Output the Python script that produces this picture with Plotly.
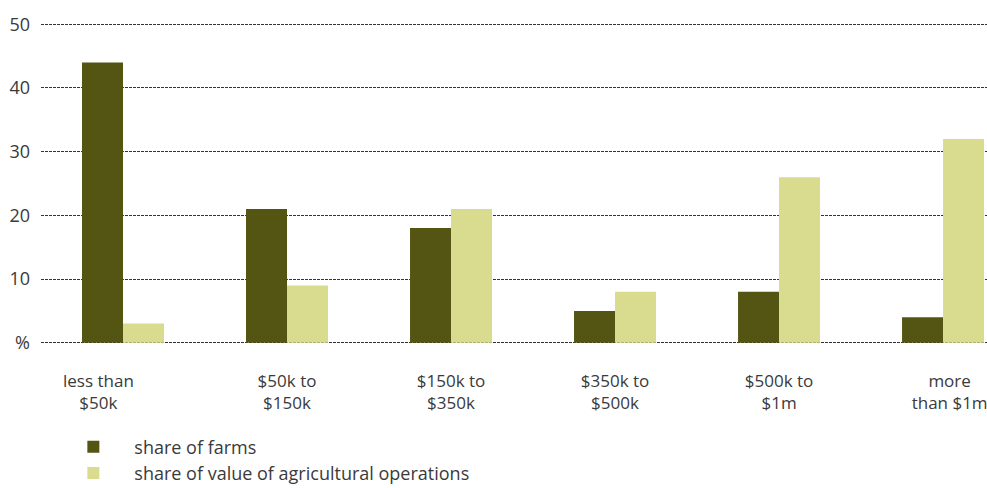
import plotly.graph_objects as go

categories = ["less than<br>$50k", "$50k to<br>$150k", "$150k to<br>$350k", "$350k to<br>$500k", "$500k to<br>$1m", "more<br>than $1m"]
label_positions = [-0.15, 1, 2, 3, 4, 5.04]
share_farms = [44, 21, 18, 5, 8, 4]
share_value = [3, 9, 21, 8, 26, 32]
y_tickvals = [0, 10, 20, 30, 40, 50]
y_ticktext = ["%", "10", "20", "30", "40", "50"]

font_family = "Open Sans, Noto Sans, sans-serif"
text_color = "#3a3a3a"

fig = go.Figure()
fig.add_trace(go.Bar(x=list(range(len(categories))), y=share_farms, name="share of farms",
                     marker=dict(color="#555513", line=dict(width=0))))
fig.add_trace(go.Bar(x=list(range(len(categories))), y=share_value, name="share of value of agricultural operations",
                     marker=dict(color="#d9dc8f", line=dict(width=0))))

fig.update_layout(
    width=987, height=488,
    margin=dict(l=41, r=0, t=23, b=144, autoexpand=False),
    plot_bgcolor="white", paper_bgcolor="white",
    barmode="group", bargap=0.5, bargroupgap=0,
    font=dict(family=font_family, size=17, color=text_color),
    showlegend=True,
    legend=dict(orientation="v", x=0.012, y=0.122, xref="paper", yref="container",
                xanchor="left", yanchor="top",
                font=dict(size=18, color=text_color), itemwidth=72,
                bgcolor="rgba(0,0,0,0)"),
    xaxis=dict(tickmode="array", tickvals=label_positions, ticktext=categories,
               range=[-0.5, 5.268], showgrid=False, zeroline=False, showline=False,
               ticks="", ticklabelstandoff=25, ticklabeloverflow="allow",
               tickfont=dict(size=17, color=text_color)),
    yaxis=dict(range=[-0.2, 50.2], tickvals=y_tickvals, ticktext=y_ticktext,
               showgrid=True, gridcolor="#333333", griddash="3px,1px", gridwidth=1,
               zeroline=False, showline=False, ticks="", ticklabelstandoff=10,
               tickfont=dict(size=18, color=text_color)),
)

fig.write_html("out.html")
